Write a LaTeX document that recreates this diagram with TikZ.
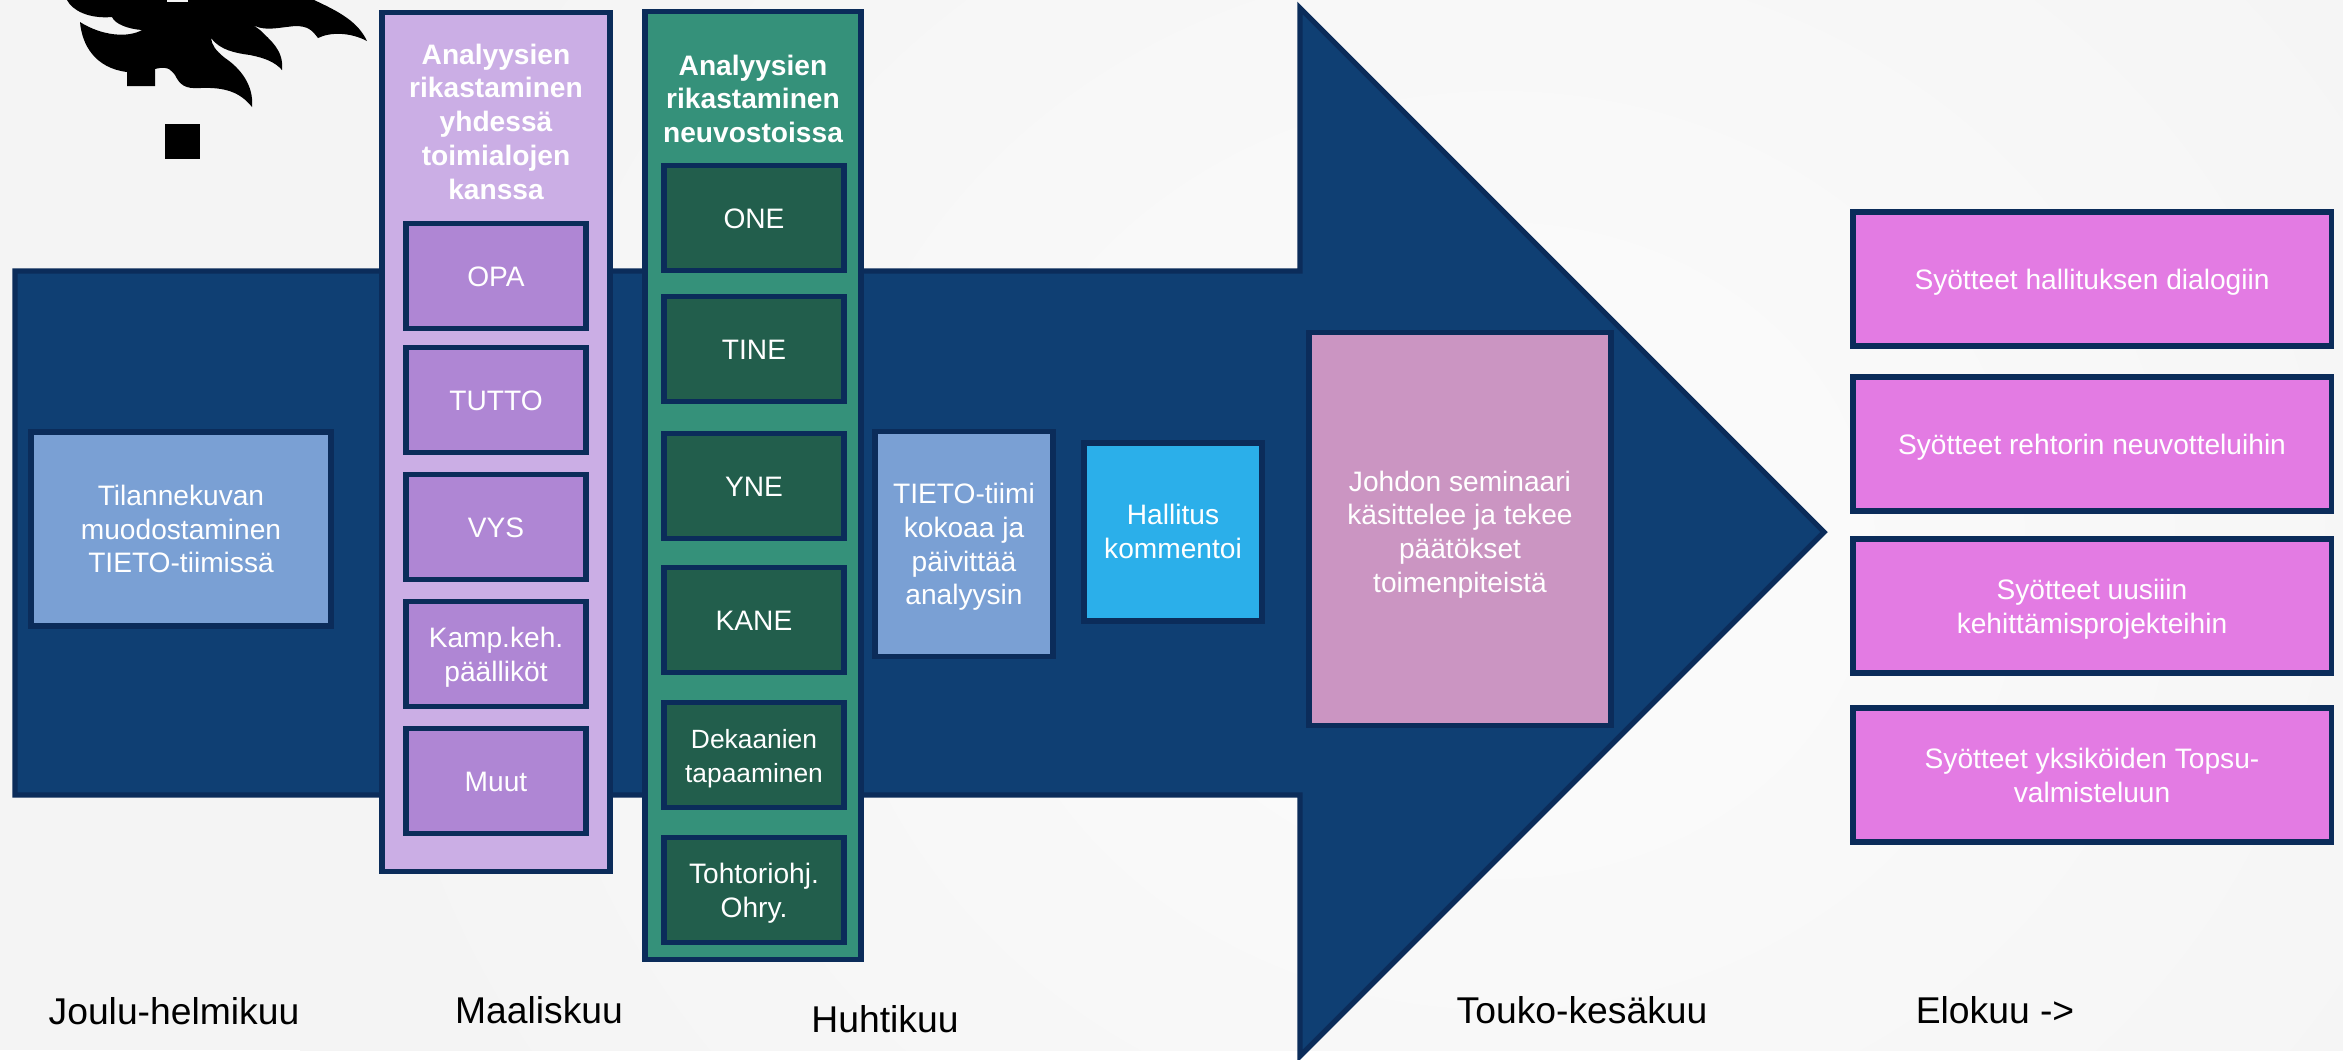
\documentclass[tikz,border=0pt]{standalone}
\usepackage{fontspec}
\setmainfont{Liberation Sans}
\definecolor{bgouter}{HTML}{F4F4F4}
\definecolor{bginner}{HTML}{FCFCFC}
\definecolor{arrowblue}{HTML}{0F3F73}
\definecolor{edgeblue}{HTML}{0B2C5A}
\definecolor{lilacback}{HTML}{CBAEE5}
\definecolor{lilacbox}{HTML}{AF86D4}
\definecolor{greenback}{HTML}{35917A}
\definecolor{greenbox}{HTML}{225E4C}
\definecolor{steelbox}{HTML}{7AA0D4}
\definecolor{skybox}{HTML}{2BAFEA}
\definecolor{mauvebox}{HTML}{CB95C2}
\definecolor{pinkbox}{HTML}{E37BE3}
\tikzset{
  phasebox/.style={draw=edgeblue, line width=1.5pt, rectangle, align=center, text=white, inner sep=0pt,
    font=\fontsize{8}{9.6}\selectfont,
    execute at begin node={\rule{0pt}{8pt}}, execute at end node={\rule[-2.2pt]{0pt}{0pt}}},
  lowtext/.style={execute at begin node={\rule{0pt}{#1}}},
  rowbox/.style={phasebox, minimum width=1.80cm, minimum height=1.05cm},
  goalbox/.style={phasebox, fill=pinkbox, minimum width=4.78cm, minimum height=1.34cm},
  backbox/.style={phasebox, minimum width=2.28cm},
  titletext/.style={align=center, text=white, inner sep=0pt, font=\fontsize{8}{9.6}\selectfont\bfseries},
  monthlabel/.style={font=\fontsize{10.6}{12}\selectfont, text=black}
}
\begin{document}
\begin{tikzpicture}[x=0.01cm, y=-0.01cm]
\newcommand{\Headx}{1300}; % where the arrow head starts
\newcommand{\Tipx}{1824}; % arrow tip

\useasboundingbox (0, 0) rectangle (2343, 1059);
\fill[white] (0, 0) rectangle (2343, 1059);
\begin{scope}
\clip (0, 0) rectangle (2343, 1050);
\fill[bgouter] (0, 0) rectangle (2343, 1050);
\shade[inner color=bginner, outer color=bgouter] (300, -500) rectangle (2700, 1600);
\end{scope}

% big arrow
\draw[draw=edgeblue, fill=arrowblue, line width=1.5pt, miter limit=10]
  (15, 271) -- (\Headx, 271) -- (\Headx, 8) -- (\Tipx, 532) -- (\Headx, 1056) -- (\Headx, 795) -- (15, 795) -- cycle;

% flame logo
\fill[black] (67, 0) .. controls (72, 10) and (88, 19) .. (112, 17)
  .. controls (115, 24) and (128, 29) .. (142, 30)
  .. controls (128, 38) and (102, 36) .. (80, 22)
  .. controls (82, 45) and (95, 68) .. (127, 72) -- (127, 86) -- (155, 86) -- (155, 69)
  .. controls (170, 65) and (172, 72) .. (175, 75)
  .. controls (180, 85) and (185, 89) .. (200, 88)
  .. controls (225, 87) and (240, 92) .. (252, 107)
  .. controls (254, 85) and (240, 68) .. (225, 58)
  .. controls (215, 50) and (212, 45) .. (211, 38)
  .. controls (220, 50) and (235, 53) .. (250, 55)
  .. controls (265, 58) and (275, 62) .. (282, 70)
  .. controls (284, 50) and (270, 40) .. (260, 30)
  .. controls (255, 26) and (252, 25) .. (250, 23)
  .. controls (262, 32) and (275, 28) .. (295, 26)
  .. controls (308, 26) and (312, 30) .. (318, 38)
  .. controls (330, 32) and (350, 32) .. (367, 41)
  .. controls (358, 22) and (340, 12) .. (314, 0) -- cycle;
\fill[bgouter] (167, 0) rectangle (188, 2);
\fill[black] (165, 124) rectangle (200, 159);

% first phase
\node[phasebox, lowtext=27.2pt, fill=steelbox, minimum width=3.00cm, minimum height=1.94cm] (tilanne) at (181, 529)
  {Tilannekuvan\\muodostaminen\\TIETO-tiimissä};

% lilac column
\node[backbox, fill=lilacback, minimum height=8.58cm, anchor=north] (lilac) at (496, 10) {};
\node[titletext, anchor=north] (lilactitle) at (496, 43)
  {Analyysien\\rikastaminen\\yhdessä\\toimialojen\\kanssa};
\foreach \name/\y/\txt in {opa/276/OPA, tutto/400/TUTTO, vys/527/VYS, muut/781/Muut}
  \node[rowbox, fill=lilacbox] (\name) at (496, \y) {\txt};
\node[rowbox, lowtext=17.6pt, fill=lilacbox] (kamp) at (496, 654) {Kamp.keh.\\päälliköt};

% green column
\node[backbox, fill=greenback, minimum width=2.16cm, minimum height=9.47cm, anchor=north] (green) at (753, 9) {};
\node[titletext, anchor=north] (greentitle) at (753, 54)
  {Analyysien\\rikastaminen\\neuvostoissa};
\foreach \name/\y/\txt in {one/218/ONE, tine/349/TINE, yne/486/YNE, kane/620/KANE}
  \node[rowbox, fill=greenbox] (\name) at (754, \y) {\txt};
\node[rowbox, lowtext=17.6pt, fill=greenbox, font=\fontsize{7.5}{9.6}\selectfont] (dekaani) at (754, 755) {Dekaanien\\tapaaminen};
\node[rowbox, lowtext=17.6pt, fill=greenbox] (tohtori) at (754, 890) {Tohtoriohj.\\Ohry.};

% between the columns and the head
\node[phasebox, lowtext=36.8pt, fill=steelbox, minimum width=1.78cm, minimum height=2.25cm] (tieto) at (964, 544)
  {TIETO-tiimi\\kokoaa ja\\päivittää\\analyysin};
\node[phasebox, lowtext=17pt, fill=skybox, minimum width=1.78cm, minimum height=1.78cm] (hallitus) at (1173, 532)
  {Hallitus\\kommentoi};
\node[phasebox, lowtext=38.2pt, fill=mauvebox, minimum width=3.02cm, minimum height=3.93cm] (johdon) at (1460, 529)
  {Johdon seminaari\\käsittelee ja tekee\\päätökset\\toimenpiteistä};

% outcomes
\node[goalbox] (hallgoal) at (2092, 279) {Syötteet hallituksen dialogiin};
\node[goalbox] (rehtori) at (2092, 444) {Syötteet rehtorin neuvotteluihin};
\node[goalbox, lowtext=17.6pt] (projekti) at (2092, 606) {Syötteet uusiiin\\kehittämisprojekteihin};
\node[goalbox, lowtext=17.6pt] (topsu) at (2092, 775) {Syötteet yksiköiden Topsu-\\valmisteluun};

% months
\node[monthlabel] (joulu) at (174, 1011) {Joulu-helmikuu};
\node[monthlabel] (maalis) at (539, 1010) {Maaliskuu};
\node[monthlabel] (huhti) at (885, 1019) {Huhtikuu};
\node[monthlabel] (touko) at (1582, 1010) {Touko-kesäkuu};
\node[monthlabel] (elokuu) at (1995, 1010) {Elokuu ->};
\end{tikzpicture}
\end{document}
